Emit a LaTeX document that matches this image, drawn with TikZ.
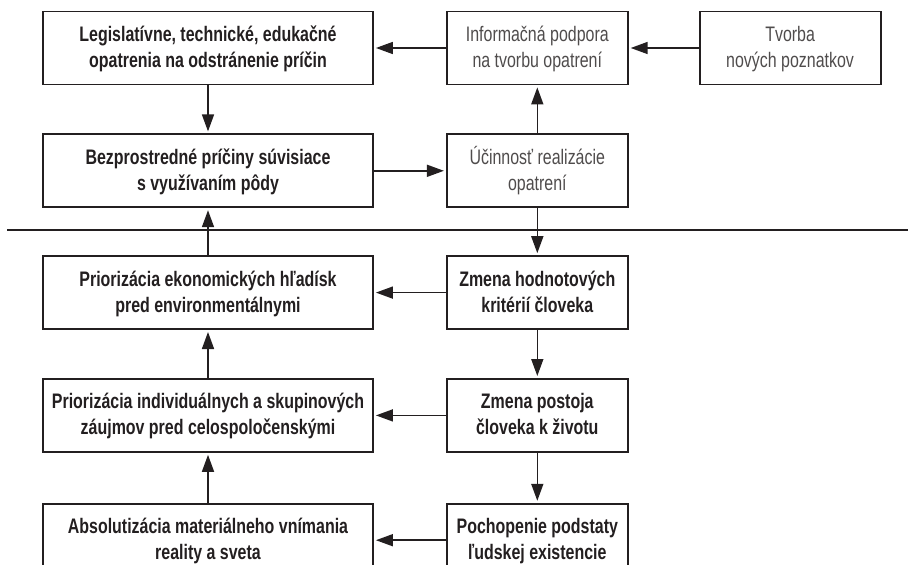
\documentclass[tikz,border=0pt]{standalone}
\usepackage{fontspec}
\setmainfont{Liberation Sans}[FakeStretch=0.76]
\usetikzlibrary{arrows.meta,positioning,calc}
\definecolor{ink}{HTML}{231F20}

\begin{document}
\begin{tikzpicture}[
    x=1bp, y=1bp,
    node distance=48bp and 72bp,
    box/.style={draw=ink, line width=1.8bp, align=center, minimum width=330bp, minimum height=73bp, inner sep=0pt, text height=56bp, text depth=17bp, text=ink, font=\fontsize{21bp}{26bp}\selectfont\bfseries},
    midbox/.style={box, minimum width=181bp},
    thinbox/.style={midbox, text=ink!80, font=\fontsize{21bp}{26bp}\selectfont},
    link/.style={-{Triangle[length=17bp, width=12bp]}, line width=1.6bp, draw=ink, shorten >=2bp}
]
\useasboundingbox (0,0) rectangle (908,-565);
\clip (0,0) rectangle (908,-565);
% upper part
\node[box] (leg) at (208,-48) {Legislatívne, technické, edukačné\\opatrenia na odstránenie príčin};
\node[thinbox, right=of leg] (info) {Informačná podpora\\na tvorbu opatrení};
\node[thinbox, right=70bp of info] (tvorba) {Tvorba\\nových poznatkov};
\node[box, below=of leg] (bez) {Bezprostredné príčiny súvisiace\\s využívaním pôdy};
\node[thinbox, right=of bez] (ucin) {Účinnosť realizácie\\opatrení};
% lower part
\node[box, below=47bp of bez] (ekon) {Priorizácia ekonomických hľadísk\\pred environmentálnymi};
\node[midbox, right=of ekon] (hodn) {Zmena hodnotových\\kritérií človeka};
\node[box, below=of ekon] (indiv) {Priorizácia individuálnych a skupinových\\záujmov pred celospoločenskými};
\node[midbox, right=of indiv] (postoj) {Zmena postoja\\človeka k životu};
\node[box, below=50bp of indiv] (absol) {Absolutizácia materiálneho vnímania\\reality a sveta};
\node[midbox, right=of absol] (podst) {Pochopenie podstaty\\ľudskej existencie};
% dividing line
\coordinate (sep) at ($(bez.south)!0.47!(ekon.north)$);
\draw[ink, line width=1.8bp] (7,0 |- sep) -- (908,0 |- sep);
% arrows
\draw[link] (info) -- (leg);
\draw[link] (tvorba) -- (info);
\draw[link] (leg) -- (bez);
\draw[link] (bez) -- (ucin);
\draw[link] (ucin) -- (info);
\draw[link] (ucin) -- (hodn);
\draw[link] (ekon) -- (bez);
\draw[link] (hodn) -- (ekon);
\draw[link] (hodn) -- (postoj);
\draw[link] (postoj) -- (indiv);
\draw[link] (indiv) -- (ekon);
\draw[link] (postoj) -- (podst);
\draw[link] (podst) -- (absol);
\draw[link] (absol) -- (indiv);
\end{tikzpicture}
\end{document}
